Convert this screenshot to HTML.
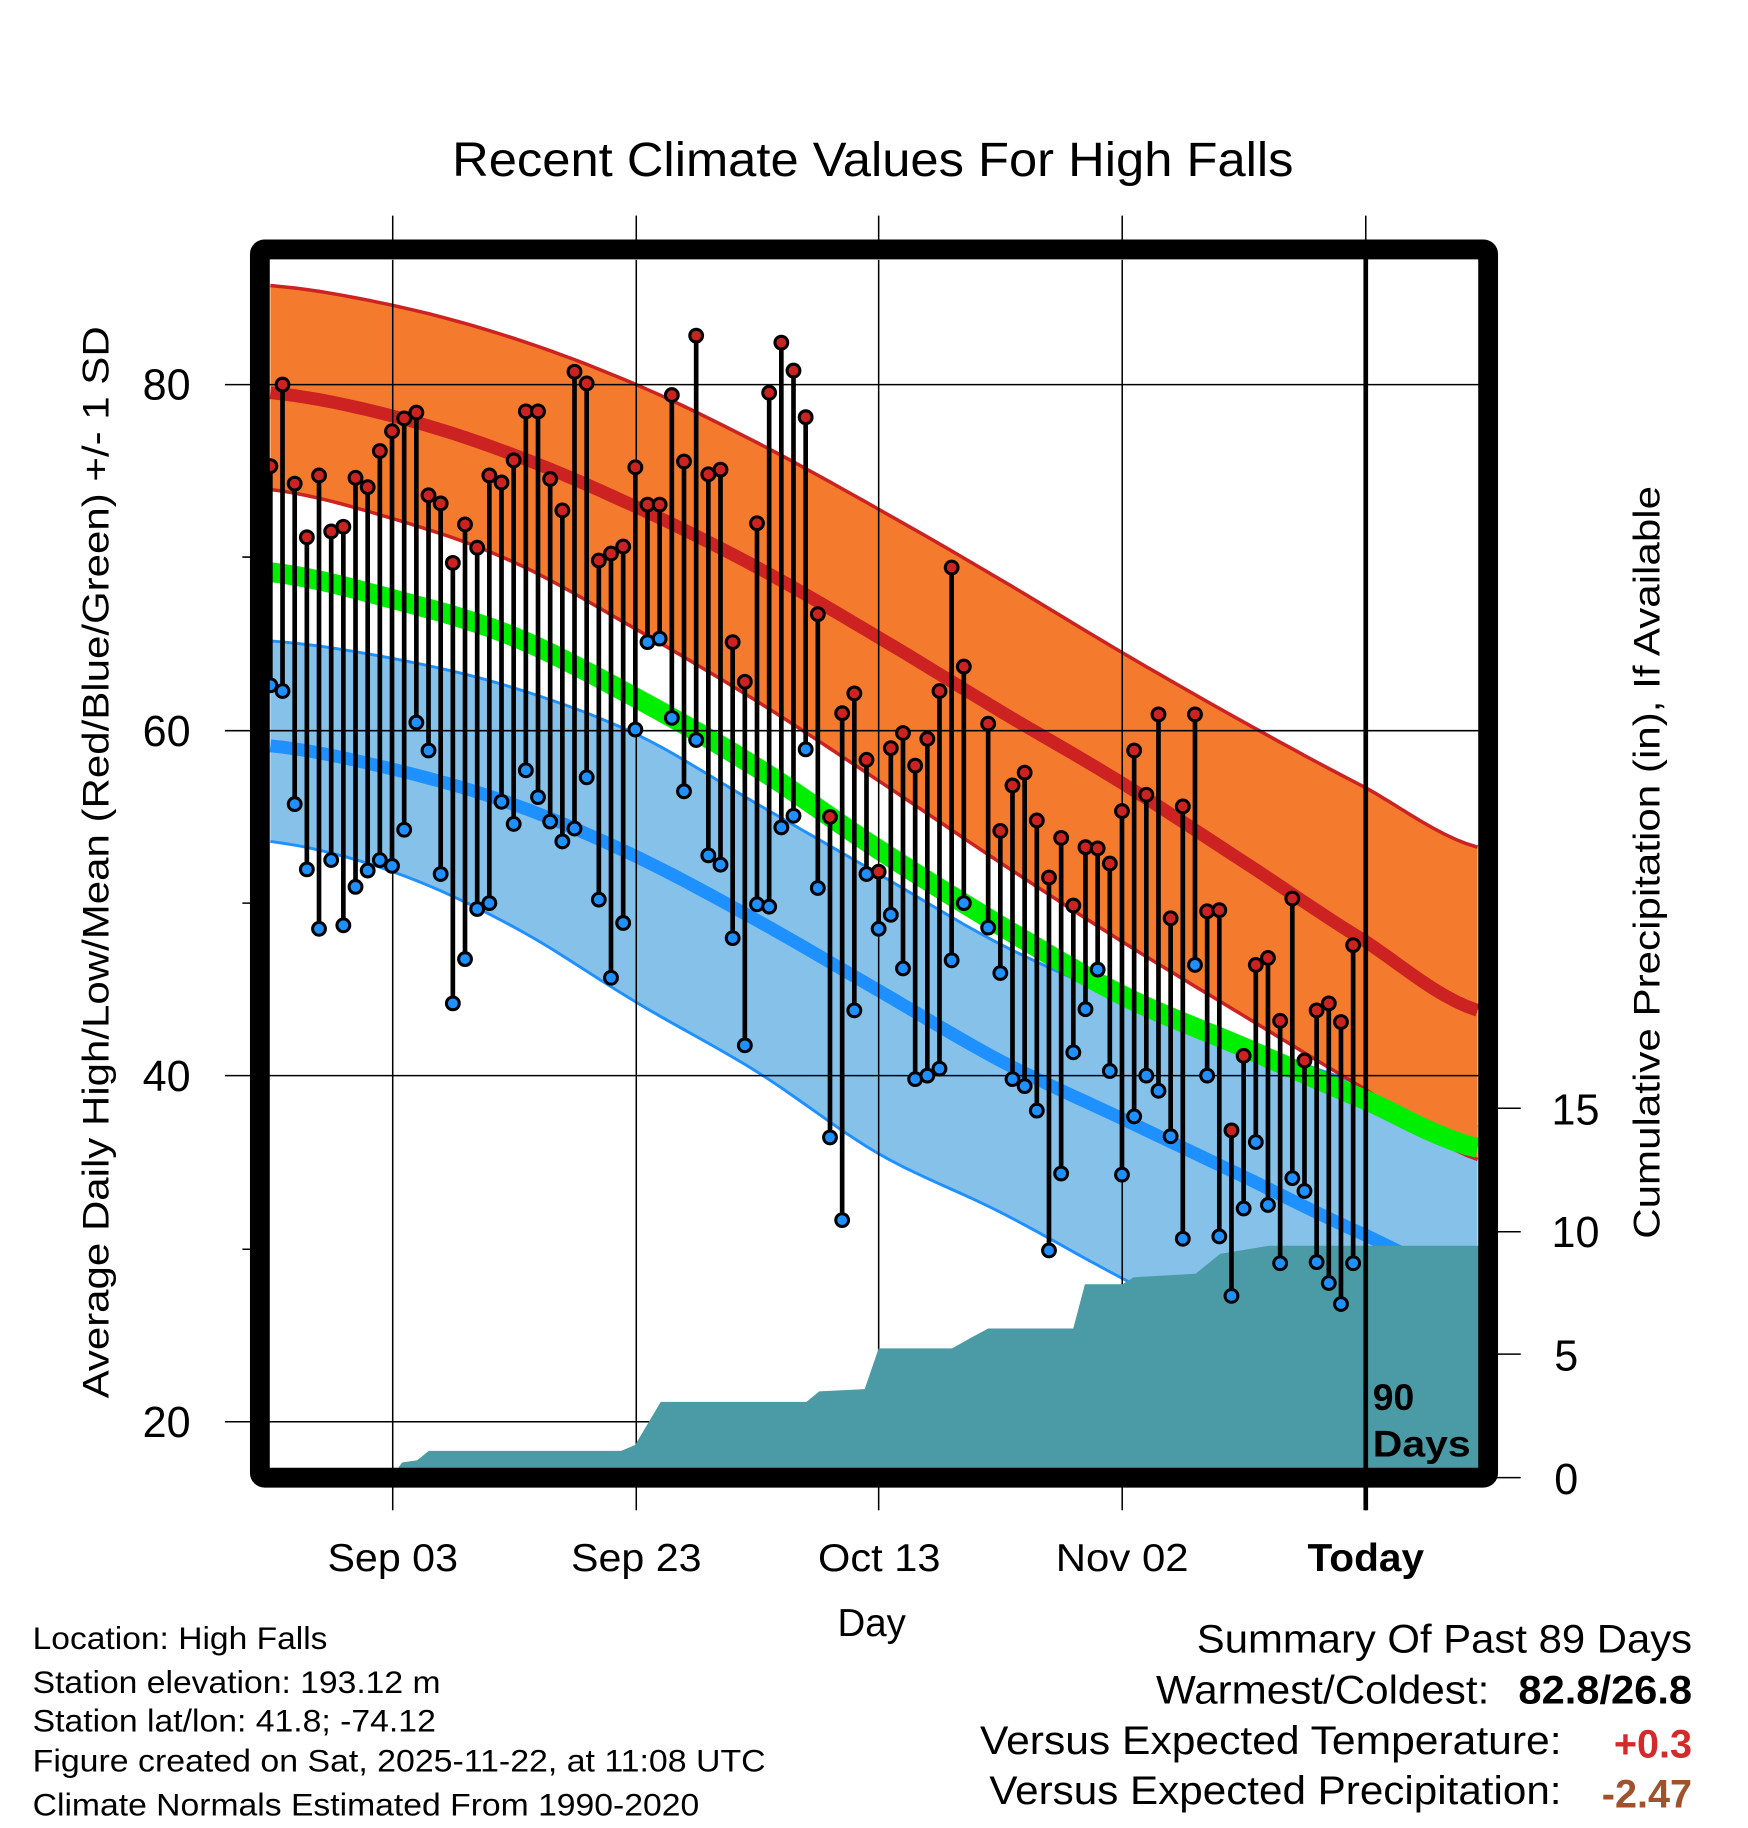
<!DOCTYPE html>
<html><head><meta charset="utf-8"><style>
html,body{margin:0;padding:0;background:#fff;}
svg{display:block;font-family:"Liberation Sans",sans-serif;}
</style></head><body>
<svg id="s" width="1748" height="1828" viewBox="0 0 1500 1568.6" xmlns="http://www.w3.org/2000/svg">
<defs><clipPath id="cp"><rect x="231" y="223" width="1038" height="1037"/></clipPath></defs>
<g id="plot" clip-path="url(#cp)"></g>
<g id="over"></g>
<text x="388" y="151" font-size="41" textLength="722" lengthAdjust="spacingAndGlyphs">Recent Climate Values For High Falls</text>
<text transform="translate(93,1200) rotate(-90)" font-size="32" textLength="920" lengthAdjust="spacingAndGlyphs">Average Daily High/Low/Mean (Red/Blue/Green) +/- 1 SD</text>
<text transform="translate(1424,1063) rotate(-90)" font-size="32" textLength="646" lengthAdjust="spacingAndGlyphs">Cumulative Precipitation (in), If Available</text>
<g font-size="37" text-anchor="middle">
<text x="143" y="343">80</text><text x="143" y="640">60</text><text x="143" y="936">40</text><text x="143" y="1233">20</text>
</g>
<g font-size="37" text-anchor="middle">
<text x="1352" y="965">15</text><text x="1352" y="1070">10</text><text x="1344" y="1176">5</text><text x="1344" y="1282">0</text>
</g>
<g font-size="33">
<text x="281" y="1348" textLength="112" lengthAdjust="spacingAndGlyphs">Sep 03</text>
<text x="490" y="1348" textLength="112" lengthAdjust="spacingAndGlyphs">Sep 23</text>
<text x="702" y="1348" textLength="105" lengthAdjust="spacingAndGlyphs">Oct 13</text>
<text x="906" y="1348" textLength="114" lengthAdjust="spacingAndGlyphs">Nov 02</text>
<text x="1122" y="1348" font-weight="bold" textLength="100" lengthAdjust="spacingAndGlyphs">Today</text>
<text x="748" y="1404" text-anchor="middle">Day</text>
</g>
<g font-size="27">
<text x="28" y="1415" textLength="253" lengthAdjust="spacingAndGlyphs">Location: High Falls</text>
<text x="28" y="1453" textLength="350" lengthAdjust="spacingAndGlyphs">Station elevation: 193.12 m</text>
<text x="28" y="1486" textLength="346" lengthAdjust="spacingAndGlyphs">Station lat/lon: 41.8; -74.12</text>
<text x="28" y="1520" textLength="629" lengthAdjust="spacingAndGlyphs">Figure created on Sat, 2025-11-22, at 11:08 UTC</text>
<text x="28" y="1558" textLength="572" lengthAdjust="spacingAndGlyphs">Climate Normals Estimated From 1990-2020</text>
</g>
<g font-size="34">
<text x="1027" y="1418" textLength="425" lengthAdjust="spacingAndGlyphs">Summary Of Past 89 Days</text>
<text x="992" y="1462" textLength="286" lengthAdjust="spacingAndGlyphs">Warmest/Coldest:</text>
<text x="1303" y="1462" font-weight="bold" textLength="149" lengthAdjust="spacingAndGlyphs">82.8/26.8</text>
<text x="841" y="1505" textLength="499" lengthAdjust="spacingAndGlyphs">Versus Expected Temperature:</text>
<text x="1452" y="1508" font-weight="bold" fill="#d42a2a" text-anchor="end">+0.3</text>
<text x="849" y="1548" textLength="491" lengthAdjust="spacingAndGlyphs">Versus Expected Precipitation:</text>
<text x="1452" y="1551" font-weight="bold" fill="#a0522d" text-anchor="end">-2.47</text>
</g>
</svg>
<script>
var NS="http://www.w3.org/2000/svg";
function el(p,t,a){var e=document.createElementNS(NS,t);for(var k in a)e.setAttribute(k,a[k]);p.appendChild(e);return e;}
var P=document.getElementById('plot'),O=document.getElementById('over');
var X=[232,337,440,546,650,754,858,963,1068,1172,1268];
// smooth interpolation (Catmull-Rom) into dense points
function dense(ys){var out=[];for(var i=0;i<X.length-1;i++){var p0=ys[Math.max(0,i-1)],p1=ys[i],p2=ys[i+1],p3=ys[Math.min(ys.length-1,i+2)];
for(var k=0;k<10;k++){var t=k/10,t2=t*t,t3=t2*t;var y=0.5*((2*p1)+(-p0+p2)*t+(2*p0-5*p1+4*p2-p3)*t2+(-p0+3*p1-3*p2+p3)*t3);out.push((X[i]+(X[i+1]-X[i])*t).toFixed(1)+","+y.toFixed(1));}}
out.push(X[X.length-1]+","+ys[ys.length-1]);return out;}
function band(top,bot,fill){var a=dense(top),b=dense(bot).reverse();el(P,'polygon',{points:a.concat(b).join(' '),fill:fill});}
function line(ys,c,w){el(P,'polyline',{points:dense(ys).join(' '),fill:'none',stroke:c,'stroke-width':w,'stroke-linejoin':'round'});}
var oT=[245,262,290,330,380,437,497,560,620,676,727];
var oM=[337,357,390,435,487,547,610,672,740,808,867];
var oB=[420,445,482,540,602,670,740,808,872,935,995];
var gT=[482,505,537,590,650,720,785,845,890,935,976];
var bT=[550,565,590,630,690,750,810,857,895,932,967];
var bM=[640,660,690,735,790,850,910,960,1010,1060,1100];
var bB=[722,748,795,860,920,990,1040,1097,1150,1200,1250];
band(bT,bB,'#85c1e9');
line(bT,'#1e90ff',2.5);line(bB,'#1e90ff',2.5);
line(bM,'#1e90ff',11);
band(oT,oB,'#f47a2e');
line(oT,'#cc2222',3);line(oB,'#cc2222',3);
line(oM,'#cc2222',11);
line(gT.map(function(y){return y+9;}),'#00ee00',17);
[330,627,923,1220].forEach(function(y){el(P,'line',{x1:231,x2:1270,y1:y,y2:y,stroke:'#000','stroke-width':1.3});});
[337,546,754,963].forEach(function(x){el(P,'line',{x1:x,x2:x,y1:220,y2:1262,stroke:'#000','stroke-width':1.3});});
var pr="232,1262 340,1262 345,1255 358,1253 368,1245 533,1245 545,1240 567,1203 692,1203 703,1194 742,1192 754,1157 817,1157 835,1147 848,1140 921,1140 931,1102 963,1102 973,1096 1026,1093 1047,1076 1089,1069 1270,1069 1270,1262";
el(P,'polygon',{points:pr,fill:'#4a9ba5'});
var D=[[400,588],[330,593],[415,690],[461,746],[408,797],[456,738],[452,794],[410,761],[418,747],[387,738],[370,743],[359,712],[354,620],[425,644],[432,750],[483,861],[450,823],[470,780],[408,775],[414,688],[395,707],[353,661],[353,684],[411,705],[438,722],[319,711],[329,667],[481,772],[475,839],[469,792],[401,626],[433,551],[433,548],[339,616],[396,679],[288,635],[407,734],[403,742],[551,805],[585,897],[449,776],[337,778],[294,710],[318,700],[358,643],[527,762],[701,976],[612,1047],[595,867],[652,750],[748,797],[642,785],[629,831],[657,926],[634,923],[593,917],[487,824],[572,775],null,[621,796],[713,835],[674,926],[663,932],[704,953],[753,1073],[719,1007],[777,903],[727,866],[728,832],[741,919],[696,1008],[644,958],[682,923],[613,936],[788,975],[692,1063],[613,828],[782,923],[781,1061],[970,1112],[906,1037],[828,980],[822,1034],[876,1084],[771,1011],[910,1022],[867,1083],[861,1101],[877,1119],[811,1084]];
D.forEach(function(d,i){if(!d)return;var x=232+10.44*i;el(P,'line',{x1:x,x2:x,y1:d[0],y2:d[1],stroke:'#000','stroke-width':4});});
D.forEach(function(d,i){if(!d)return;var x=232+10.44*i;
el(P,'circle',{cx:x,cy:d[0],r:5.5,fill:'#cc2222',stroke:'#000','stroke-width':2.6});
el(P,'circle',{cx:x,cy:d[1],r:5.5,fill:'#1e90ff',stroke:'#000','stroke-width':2.6});});
el(O,'line',{x1:1172,x2:1172,y1:220,y2:1296,stroke:'#000','stroke-width':4});
var t=el(O,'text',{x:1178,y:1210,'font-size':32,'font-weight':'bold'});t.textContent='90';
t=el(O,'text',{x:1178,y:1250,'font-size':32,'font-weight':'bold',textLength:84,lengthAdjust:'spacingAndGlyphs'});t.textContent='Days';
[337,546,754,963,1172].forEach(function(x){el(O,'line',{x1:x,x2:x,y1:185,y2:215,stroke:'#000','stroke-width':1.3});el(O,'line',{x1:x,x2:x,y1:1268,y2:1296,stroke:'#000','stroke-width':1.3});});
[330,627,923,1220].forEach(function(y){el(O,'line',{x1:193,x2:223,y1:y,y2:y,stroke:'#000','stroke-width':1.3});});
[478,775,1072].forEach(function(y){el(O,'line',{x1:208,x2:223,y1:y,y2:y,stroke:'#000','stroke-width':1.3});});
[951,1057,1162,1268].forEach(function(y){el(O,'line',{x1:1277,x2:1305,y1:y,y2:y,stroke:'#000','stroke-width':1.3});});
el(O,'rect',{x:223,y:214,width:1054,height:1054,fill:'none',stroke:'#000','stroke-width':17,rx:4});
</script>
</body></html>
